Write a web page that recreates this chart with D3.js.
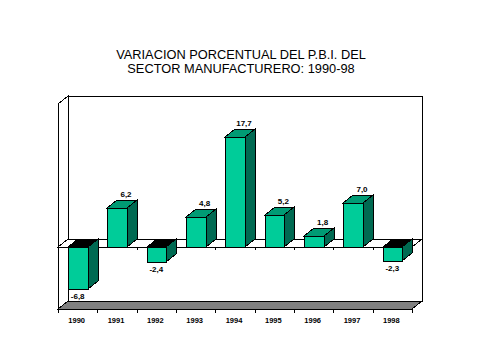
<!DOCTYPE html>
<html>
<head>
<meta charset="utf-8">
<script src="https://cdn.jsdelivr.net/npm/d3@7"></script>
<style>
  html, body { margin: 0; padding: 0; background: #ffffff; }
  svg { display: block; }
</style>
</head>
<body>
<svg id="chart" width="477" height="356"></svg>
<script>
const categories = ["1990", "1991", "1992", "1993", "1994", "1995", "1996", "1997", "1998"];
const values = [-6.8, 6.2, -2.4, 4.8, 17.7, 5.2, 1.8, 7.0, -2.3];
const titleLines = ["VARIACION PORCENTUAL DEL P.B.I. DEL", "SECTOR MANUFACTURERO: 1990-98"];
const yDomain = [-10, 23];

(function () {
const svg = d3.select("#chart");
const dx = 10, dy = 8;
const pLeft = 58, pRight = 412, pTop = 104, pBottom = 309;

const x = d3.scaleBand().domain(categories).range([pLeft, pRight]).padding(0);
const y = d3.scaleLinear().domain(yDomain).range([pBottom, pTop]);
const bw = x.bandwidth();
const fmt = v => d3.format(".1f")(v).replace(".", ",").replace("\u2212", "-");

const colFront = "#00CC99", colTop = "#009B74", colSide = "#006A52", colFloor = "#808080";

const pts = a => a.map(p => p.join(",")).join(" ");
const g = svg.append("g").attr("shape-rendering", "crispEdges");

// Title
svg.append("g").selectAll("text").data(titleLines).join("text")
  .attr("x", 241).attr("y", (d, i) => 58.5 + i * 14.5)
  .attr("text-anchor", "middle")
  .attr("font-family", "Liberation Sans, Arial, sans-serif")
  .attr("font-size", "12.8px")
  .attr("fill", "#000")
  .text(d => d);

// Back wall
g.append("polygon")
  .attr("points", pts([[pLeft + dx, pTop - dy], [pRight + dx, pTop - dy], [pRight + dx, pBottom - dy], [pLeft + dx, pBottom - dy]]))
  .attr("fill", "#fff").attr("stroke", "#000");
// Left wall
g.append("polygon")
  .attr("points", pts([[pLeft, pTop], [pLeft + dx, pTop - dy], [pLeft + dx, pBottom - dy], [pLeft, pBottom]]))
  .attr("fill", "#fff").attr("stroke", "#000");
// Floor
g.append("polygon")
  .attr("points", pts([[pLeft, pBottom], [pLeft + dx, pBottom - dy], [pRight + dx, pBottom - dy], [pRight, pBottom]]))
  .attr("fill", colFloor).attr("stroke", "#000");

// Zero plane
const y0 = Math.round(y(0));
g.append("polygon")
  .attr("points", pts([[pLeft, y0], [pLeft + dx, y0 - dy], [pRight + dx, y0 - dy], [pRight, y0]]))
  .attr("fill", "#fff").attr("stroke", "#000");
const bounds = categories.map(c => x(c)).concat([pRight]);
g.selectAll("line.zt").data(bounds.slice(1)).join("line")
  .attr("x1", d => Math.round(d) + 0.5).attr("x2", d => Math.round(d) + 0.5)
  .attr("y1", y0).attr("y2", y0 + 3).attr("stroke", "#000");

// Bars
const data = categories.map((c, i) => ({ c, v: values[i] }));
g.selectAll("g.bar").data(data).join("g").attr("class", "bar").each(function (d) {
  const s = d3.select(this);
  const x0 = Math.round(x(d.c) + bw * 0.25);
  const x1 = Math.round(x(d.c) + bw * 0.75);
  const yt = Math.round(y(Math.max(d.v, 0)));
  const yb = Math.round(y(Math.min(d.v, 0)));
  s.append("polygon")
    .attr("points", pts([[x1, yt], [x1 + dx, yt - dy], [x1 + dx, yb - dy], [x1, yb]]))
    .attr("fill", colSide).attr("stroke", "#000");
  s.append("polygon")
    .attr("points", pts([[x0, yt], [x0 + dx, yt - dy], [x1 + dx, yt - dy], [x1, yt]]))
    .attr("fill", d.v < 0 ? "#000" : colTop).attr("stroke", "#000");
  s.append("rect")
    .attr("x", x0).attr("y", yt).attr("width", x1 - x0).attr("height", yb - yt)
    .attr("fill", colFront).attr("stroke", "#000");
});

// Value labels
svg.append("g").selectAll("text").data(data).join("text")
  .attr("x", d => x(d.c) + bw * 0.5 + (d.v >= 0 ? 9 : 0))
  .attr("y", d => d.v >= 0 ? y(d.v) - 11 : y(d.v) + 10)
  .attr("text-anchor", "middle")
  .attr("font-family", "Liberation Sans, Arial, sans-serif")
  .attr("font-size", "8px").attr("font-weight", "bold")
  .attr("fill", "#000")
  .text(d => fmt(d.v));

// Category axis at bottom
const ax = svg.append("g").attr("transform", `translate(0,${pBottom})`)
  .call(d3.axisBottom(x).tickSize(0).tickPadding(9));
ax.select(".domain").remove();
ax.selectAll("text")
  .attr("dx", "-1px")
  .attr("font-family", "Liberation Sans, Arial, sans-serif")
  .attr("font-size", "7.5px").attr("font-weight", "bold")
  .attr("fill", "#000");
const bt = svg.append("g").attr("shape-rendering", "crispEdges");
bt.append("line").attr("x1", pLeft).attr("x2", pRight).attr("y1", pBottom + 0.5).attr("y2", pBottom + 0.5).attr("stroke", "#000");
bt.selectAll("line.t").data(bounds).join("line")
  .attr("x1", d => Math.round(d) + 0.5).attr("x2", d => Math.round(d) + 0.5)
  .attr("y1", pBottom).attr("y2", pBottom + 4).attr("stroke", "#000");
})();
</script>
</body>
</html>
